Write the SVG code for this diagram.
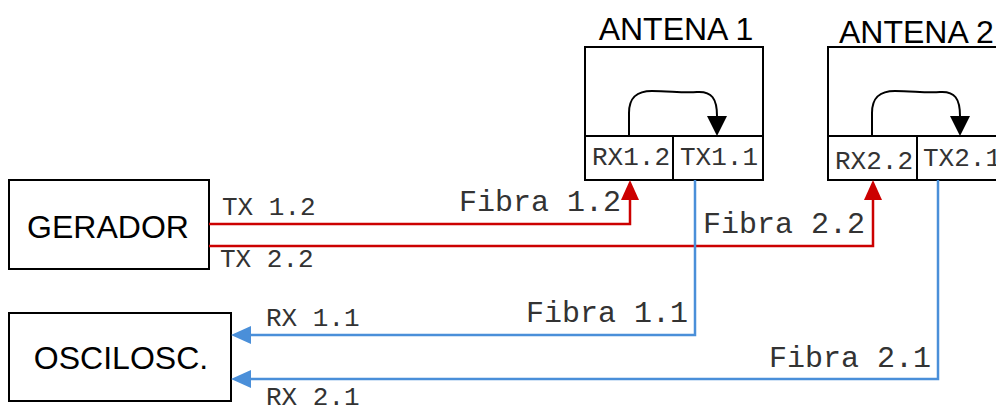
<svg xmlns="http://www.w3.org/2000/svg" width="996" height="406" viewBox="0 0 996 406">
<style>
.box{fill:#fff;stroke:#000;stroke-width:2}
.ln{fill:none;stroke:#000;stroke-width:2}
.title{font-family:"Liberation Sans",Arial,sans-serif;font-size:32px;fill:#000}
.port{font-family:"Liberation Mono","Courier New",monospace;font-size:26px;fill:#333}
.lab{font-family:"Liberation Mono","Courier New",monospace;font-size:26px;fill:#333}
.fib{font-family:"Liberation Mono","Courier New",monospace;font-size:30px;fill:#333}
.red{fill:none;stroke:#CC0000;stroke-width:2.5}
.blue{fill:none;stroke:#4A8FD9;stroke-width:2.5}
</style>
<defs>
<marker id="ar" viewBox="0 0 20 18" refX="0" refY="9" markerWidth="20" markerHeight="18" markerUnits="userSpaceOnUse" orient="auto"><path d="M0,0 L20,9 L0,18 z" fill="#CC0000"/></marker>
<marker id="ab" viewBox="0 0 20 18" refX="0" refY="9" markerWidth="20" markerHeight="18" markerUnits="userSpaceOnUse" orient="auto"><path d="M0,0 L20,9 L0,18 z" fill="#4A8FD9"/></marker>
<marker id="ak" viewBox="0 0 20 20" refX="0" refY="10" markerWidth="20" markerHeight="20" markerUnits="userSpaceOnUse" orient="auto"><path d="M0,0 L20,10 L0,20 z" fill="#000"/></marker>
</defs>
<g id="gerador">
<rect class="box" x="9" y="180" width="200" height="89"/>
<text class="title" x="108" y="238" text-anchor="middle">GERADOR</text>
</g>
<g id="osciloscopio">
<rect class="box" x="9" y="313" width="222" height="88"/>
<text class="title" x="121" y="369" text-anchor="middle">OSCILOSC.</text>
</g>
<g id="antena1">
<text class="title" x="676" y="40" text-anchor="middle">ANTENA 1</text>
<rect class="box" x="585" y="47" width="178" height="133"/>
<line class="ln" x1="585" y1="136" x2="763" y2="136"/>
<line class="ln" x1="673" y1="136" x2="673" y2="180"/>
<path class="ln" d="M629,136 V113 C629,97 637,91 652,91 C670,91 682,93 697,92 C712,91 717,99 717,116" marker-end="url(#ak)"/>
<text class="port" x="592" y="165">RX1.2</text>
<text class="port" x="680" y="165">TX1.1</text>
</g>
<g id="antena2">
<text class="title" x="839" y="43">ANTENA 2</text>
<rect class="box" x="828" y="47" width="178" height="133"/>
<line class="ln" x1="828" y1="136" x2="1006" y2="136"/>
<line class="ln" x1="917" y1="136" x2="917" y2="180"/>
<path class="ln" d="M872,136 V113 C872,97 880,91 895,91 C913,91 925,93 940,92 C955,91 960,99 960,116" marker-end="url(#ak)"/>
<text class="port" x="835" y="169">RX2.2</text>
<text class="port" x="923" y="166">TX2.1</text>
</g>
<g id="connectors">
<path class="red" d="M209,224 H630 V200" marker-end="url(#ar)"/>
<path class="red" d="M209,246 H873 V200" marker-end="url(#ar)"/>
<path class="blue" d="M695,180 V335 H251" marker-end="url(#ab)"/>
<path class="blue" d="M938,180 V379 H251" marker-end="url(#ab)"/>
<text class="lab" x="222" y="215">TX 1.2</text>
<text class="lab" x="220" y="267">TX 2.2</text>
<text class="lab" x="266" y="326">RX 1.1</text>
<text class="lab" x="266" y="405">RX 2.1</text>
<text class="fib" x="459" y="211">Fibra 1.2</text>
<text class="fib" x="703" y="233">Fibra 2.2</text>
<text class="fib" x="526" y="322">Fibra 1.1</text>
<text class="fib" x="769" y="367">Fibra 2.1</text>
</g>
</svg>
